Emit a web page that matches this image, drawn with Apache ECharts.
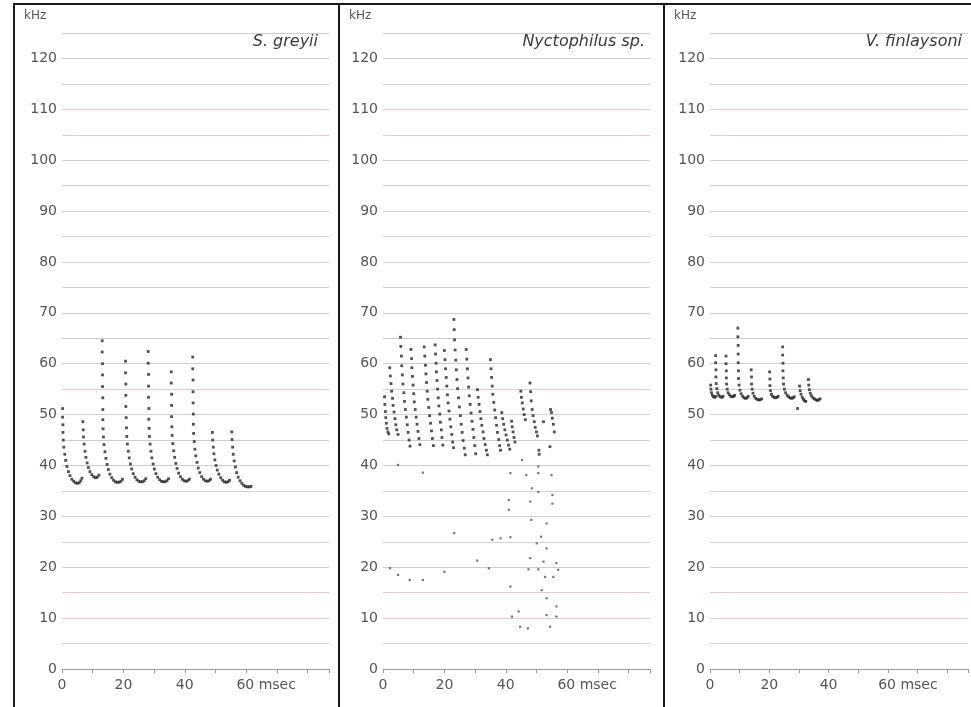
<!DOCTYPE html>
<html><head><meta charset="utf-8">
<script src="https://cdn.jsdelivr.net/npm/echarts@6/dist/echarts.min.js"></script>
<style>html,body{margin:0;padding:0;background:#fff}#c{width:971px;height:707px}</style>
</head><body><div id="c"></div>
<script>
// ---- data ----
const speciesNames = ['S. greyii', 'Nyctophilus sp.', 'V. finlaysoni'];
const yUnit = 'kHz';
const xUnit = 'msec';
const xLabelValues = [0, 20, 40, 60];

// S. greyii: [msec, kHz]
const greyiiPts = [
 [0.2,51.2],[0.2,49.5],[0.3,48],[0.3,46.5],[0.4,45],[0.6,43.6],[0.9,42.2],[1.2,41],[1.6,39.8],[2.1,38.8],[2.6,38],[3.2,37.3],[3.8,36.9],[4.4,36.6],[5.0,36.5],[5.6,36.6],[6.1,37.0],[6.5,37.5],
 [6.8,48.6],[6.9,47],[7.0,45.6],[7.2,44.2],[7.5,42.8],[7.8,41.6],[8.2,40.5],[8.6,39.6],[9.1,38.8],[9.7,38.2],[10.3,37.8],[10.9,37.6],[11.5,37.7],[12.0,38.1],
 [13.1,64.5],[13.1,62.3],[13.2,60],[13.2,57.8],[13.2,55.5],[13.3,53.3],[13.3,51],[13.3,49],[13.4,47.2],[13.5,45.6],[13.7,44.1],[14.0,42.7],[14.3,41.4],[14.7,40.2],[15.1,39.2],[15.6,38.3],[16.2,37.6],[16.8,37.1],[17.4,36.8],[18.0,36.7],[18.6,36.7],[19.2,36.9],[19.7,37.3],
 [20.7,60.5],[20.7,58.2],[20.8,56],[20.8,53.8],[20.8,51.6],[20.9,49.4],[21.0,47.4],[21.1,45.7],[21.3,44.2],[21.6,42.8],[21.9,41.5],[22.3,40.3],[22.7,39.3],[23.2,38.4],[23.8,37.7],[24.4,37.2],[25.0,36.9],[25.6,36.8],[26.2,36.8],[26.8,37.0],[27.3,37.4],
 [28.1,62.4],[28.1,60.1],[28.2,57.9],[28.2,55.6],[28.2,53.4],[28.3,51.2],[28.3,49.1],[28.4,47.3],[28.5,45.7],[28.7,44.2],[29.0,42.8],[29.3,41.5],[29.7,40.3],[30.1,39.3],[30.6,38.4],[31.2,37.7],[31.8,37.2],[32.4,36.9],[33.0,36.8],[33.6,36.8],[34.2,37.0],[34.7,37.4],
 [35.6,58.4],[35.6,56.2],[35.7,54],[35.7,51.8],[35.7,49.6],[35.8,47.6],[35.9,45.9],[36.1,44.3],[36.4,42.9],[36.7,41.6],[37.1,40.4],[37.5,39.4],[38.0,38.5],[38.6,37.8],[39.2,37.3],[39.8,37.0],[40.4,36.9],[41.0,37.0],[41.5,37.3],
 [42.6,61.3],[42.6,59],[42.7,56.8],[42.7,54.5],[42.7,52.3],[42.8,50.1],[42.8,48.1],[42.9,46.3],[43.1,44.7],[43.3,43.2],[43.6,41.9],[44.0,40.6],[44.4,39.5],[44.9,38.6],[45.5,37.8],[46.1,37.3],[46.7,37.0],[47.3,36.9],[47.9,37.0],[48.4,37.3],
 [49.0,46.5],[49.1,45],[49.3,43.6],[49.5,42.3],[49.8,41.1],[50.2,40],[50.6,39.1],[51.1,38.3],[51.7,37.6],[52.3,37.1],[52.9,36.8],[53.5,36.7],[54.1,36.8],[54.6,37.1],
 [55.3,46.6],[55.4,45.1],[55.6,43.6],[55.8,42.2],[56.1,40.9],[56.5,39.7],[56.9,38.6],[57.4,37.7],[58.0,37.0],[58.6,36.5],[59.2,36.1],[59.8,35.9],[60.4,35.8],[61.0,35.8],[61.6,35.9]
];

// Nyctophilus sp.: call streaks [msec, kHz]
const nyctoPts = [
 [0.5,53.5],[0.6,52],[0.8,50.6],[0.9,49.4],[1.1,48.3],[1.3,47.3],[1.6,46.6],[1.9,46.2],
 [2.2,59.2],[2.4,57.6],[2.6,56.1],[2.8,54.6],[3.1,53.2],[3.3,51.8],[3.6,50.5],[3.9,49.2],[4.2,48],[4.5,47],[4.9,46.1],
 [5.7,65.2],[5.8,63.4],[6.0,61.5],[6.1,59.6],[6.3,57.8],[6.5,56],[6.8,54.3],[7.0,52.6],[7.3,51],[7.6,49.5],[7.9,48],[8.2,46.5],[8.5,45],[8.8,43.8],
 [9.1,62.8],[9.3,61],[9.4,59.2],[9.6,57.5],[9.8,55.8],[10.0,54.1],[10.2,52.5],[10.5,51],[10.8,49.5],[11.1,48.1],[11.4,46.7],[11.7,45.3],[12.0,44.1],
 [13.4,63.3],[13.6,61.5],[13.8,59.7],[14.0,58],[14.2,56.3],[14.4,54.6],[14.6,53],[14.9,51.4],[15.2,49.8],[15.5,48.3],[15.8,46.8],[16.1,45.3],[16.4,43.9],
 [17.0,63.7],[17.1,61.9],[17.3,60.1],[17.4,58.4],[17.6,56.7],[17.8,55],[18.0,53.3],[18.2,51.7],[18.5,50.1],[18.7,48.5],[19.0,47],[19.2,45.5],[19.5,44],
 [20.0,62.6],[20.2,60.8],[20.4,59],[20.6,57.3],[20.8,55.6],[21.0,53.9],[21.2,52.3],[21.5,50.7],[21.8,49.1],[22.1,47.6],[22.4,46.1],[22.7,44.6],[23.0,43.5],
 [23.1,68.7],[23.2,66.7],[23.3,64.7],[23.5,62.7],[23.7,60.7],[23.9,58.8],[24.1,56.9],[24.3,55.1],[24.6,53.3],[24.9,51.5],[25.2,49.8],[25.5,48.1],[25.8,46.5],[26.1,44.9],[26.5,43.4],[26.8,42.1],
 [27.1,62.8],[27.3,60.9],[27.5,59],[27.7,57.2],[27.9,55.4],[28.1,53.7],[28.4,52],[28.7,50.3],[29.0,48.7],[29.3,47.1],[29.6,45.5],[29.9,43.9],[30.2,42.3],
 [30.8,54.9],[31.0,53.4],[31.3,52],[31.6,50.6],[31.9,49.2],[32.2,47.9],[32.6,46.6],[32.9,45.3],[33.3,44.1],[33.7,43],[34.0,42.1],
 [35.0,60.8],[35.2,59],[35.4,57.3],[35.6,55.6],[35.8,54],[36.1,52.4],[36.4,50.9],[36.7,49.4],[37.0,47.9],[37.3,46.5],[37.7,45.1],[38.0,43.9],[38.3,43],
 [38.7,50.4],[39.0,49.2],[39.3,48.1],[39.7,47],[40.1,46],[40.5,45],[40.9,44],[41.3,43.2],
 [41.9,48.7],[42.1,47.6],[42.4,46.6],[42.7,45.5],[43.0,44.6],
 [44.9,54.6],[45.1,53.4],[45.4,52.3],[45.7,51.1],[46.0,50],[46.4,49],
 [47.9,56.2],[48.1,54.5],[48.3,52.7],[48.6,51],[48.9,49.8],[49.3,48.6],[49.6,47.5],[50.0,46.6],[50.3,45.8],
 [52.3,48.6],[54.6,51.0],[54.9,50.4],[55.2,49.3],[55.5,48.1],[55.8,46.6],[54.4,43.7],[50.8,43.0],[50.9,42.2]
];

// Nyctophilus sp.: scattered faint points [msec, kHz]
const nyctoStray = [
 [4.9,40.1],[45.3,41.1],[41.5,38.5],[46.7,38.1],[50.6,39.8],[50.6,38.5],[54.9,38.1],[13,38.6],
 [48.5,35.5],[50.6,34.8],[55.2,34.2],[55.2,32.5],[41,33.2],[48,32.9],[41,31.3],[48.3,29.3],[53.3,28.6],
 [23.2,26.7],[51.5,26],[38.3,25.7],[41.5,25.9],[35.6,25.4],[50.1,24.7],[53.3,23.7],
 [30.7,21.3],[48,21.8],[52.3,21.1],[56.5,20.8],[2.3,19.8],[20,19.1],[34.5,19.8],[47.4,19.6],[50.6,19.6],[57.1,19.5],
 [4.9,18.5],[8.7,17.5],[13,17.5],[52.8,18.1],[55.5,18.1],[41.5,16.2],[51.7,15.5],[53.3,13.9],[56.5,12.3],
 [44.2,11.3],[42,10.3],[53.3,10.6],[56.5,10.3],[44.7,8.3],[47.2,8],[54.4,8.3]
];

// V. finlaysoni: [msec, kHz]
const finlayPts = [
 [0.2,55.8],[0.3,55],[0.5,54.3],[0.8,53.8],[1.2,53.5],[1.6,53.4],[2.0,53.6],
 [1.9,61.6],[1.9,60.2],[2.0,58.8],[2.0,57.4],[2.1,56.1],[2.3,55.1],[2.6,54.3],[3.0,53.8],[3.5,53.5],[4.0,53.4],[4.4,53.6],
 [5.4,61.5],[5.4,60],[5.5,58.6],[5.5,57.2],[5.6,56],[5.8,55],[6.1,54.3],[6.5,53.9],[7.0,53.6],[7.5,53.5],[8.0,53.6],[8.3,53.8],
 [9.4,67],[9.4,65.3],[9.5,63.6],[9.5,61.9],[9.5,60.2],[9.6,58.6],[9.6,57.1],[9.8,55.8],[10.1,54.8],[10.5,54.1],[11.0,53.6],[11.5,53.3],[12.0,53.2],[12.5,53.3],[12.9,53.6],
 [13.9,58.8],[14.0,57.4],[14.0,56],[14.2,55],[14.5,54.2],[14.9,53.6],[15.4,53.2],[15.9,53.0],[16.4,52.9],[16.9,52.9],[17.4,53.1],
 [20.1,58.4],[20.2,57],[20.2,55.7],[20.4,54.7],[20.7,54],[21.1,53.6],[21.6,53.4],[22.1,53.3],[22.6,53.4],[23.0,53.6],
 [24.5,63.3],[24.5,61.7],[24.6,60.1],[24.6,58.6],[24.7,57.2],[24.8,56],[25.1,55],[25.5,54.3],[26.0,53.8],[26.5,53.5],[27.0,53.3],[27.5,53.2],[28.0,53.3],[28.4,53.5],
 [29.5,51.2],
 [30.2,55.6],[30.4,54.7],[30.7,54],[31.1,53.4],[31.5,53],[31.9,52.7],[32.3,52.6],
 [33.2,56.9],[33.3,55.8],[33.5,54.9],[33.8,54.2],[34.2,53.7],[34.7,53.3],[35.2,53.1],[35.7,52.9],[36.2,52.8],[36.7,52.9],[37.1,53.1]
];

// ---- styling / layout ----
const PINK = '#e6cacd', GRAY = '#cdcdcd';
// split-line colours for 0,5,10,...,125 kHz
const gridLineColors = [GRAY, PINK, PINK, PINK, GRAY, PINK, GRAY, PINK, GRAY, GRAY, PINK, PINK, GRAY,
  GRAY, GRAY, GRAY, PINK, PINK, GRAY, GRAY, GRAY, PINK, PINK, GRAY, GRAY, GRAY];
const FONT = 'DejaVu Sans';
const panelLeft = [14, 339, 664];
const gridLeft = [62, 383, 710];

const chart = echarts.init(document.getElementById('c'), null, {renderer: 'canvas'});

const grids = [], xAxes = [], yAxes = [], series = [], titles = [], graphics = [];
for (let i = 0; i < 3; i++) {
  grids.push({left: gridLeft[i], width: 267, top: 33, bottom: 38});
  xAxes.push({
    type: 'value', gridIndex: i, min: 0, max: 87, interval: 10,
    axisLine: {lineStyle: {color: '#9a9a9a', width: 1}},
    axisTick: {length: 4, lineStyle: {color: '#9a9a9a'}},
    splitLine: {show: false},
    axisLabel: {
      margin: 9, fontSize: 14, color: '#555', fontFamily: FONT,
      formatter: v => v === 60 ? '{u|' + v + ' ' + xUnit + '}' : (xLabelValues.includes(v) ? String(v) : ''),
      rich: {u: {fontSize: 14, color: '#555', fontFamily: FONT, padding: [0, 0, 0, 40]}}
    }
  });
  yAxes.push({
    type: 'value', gridIndex: i, min: 0, max: 125, interval: 5,
    axisLine: {show: false}, axisTick: {show: false},
    axisLabel: {margin: 5, fontSize: 14, color: '#555', fontFamily: FONT,
      formatter: v => (v % 10 === 0 ? String(v) : '')},
    splitLine: {lineStyle: {color: gridLineColors, width: 1}}
  });
  titles.push({
    text: speciesNames[i], right: [653, 326, 9][i], top: 34, padding: 0,
    textStyle: {fontSize: 16, fontStyle: 'italic', fontWeight: 'normal', color: '#3a3a3a', fontFamily: FONT}
  });
  titles.push({
    text: yUnit, left: panelLeft[i] + 10, top: 10, padding: 0,
    textStyle: {fontSize: 12, fontWeight: 'normal', color: '#555', fontFamily: FONT}
  });
  graphics.push({
    type: 'rect', z: 100, silent: true,
    shape: {x: panelLeft[i], y: 4, width: 325, height: 720},
    style: {fill: 'none', stroke: '#1a1a1a', lineWidth: 2}
  });
}

series.push({type: 'scatter', xAxisIndex: 0, yAxisIndex: 0, data: greyiiPts,
  symbol: 'rect', symbolSize: 2.8, itemStyle: {color: '#262626'}, silent: true});
series.push({type: 'scatter', xAxisIndex: 1, yAxisIndex: 1, data: nyctoPts,
  symbol: 'rect', symbolSize: 2.8, itemStyle: {color: '#262626'}, silent: true});
series.push({type: 'scatter', xAxisIndex: 1, yAxisIndex: 1, data: nyctoStray,
  symbol: 'rect', symbolSize: 2.2, itemStyle: {color: '#555'}, silent: true});
series.push({type: 'scatter', xAxisIndex: 2, yAxisIndex: 2, data: finlayPts,
  symbol: 'rect', symbolSize: 2.8, itemStyle: {color: '#262626'}, silent: true});

chart.setOption({
  animation: false,
  backgroundColor: '#ffffff',
  title: titles,
  grid: grids,
  xAxis: xAxes,
  yAxis: yAxes,
  series: series,
  graphic: graphics
});
</script>
</body></html>
